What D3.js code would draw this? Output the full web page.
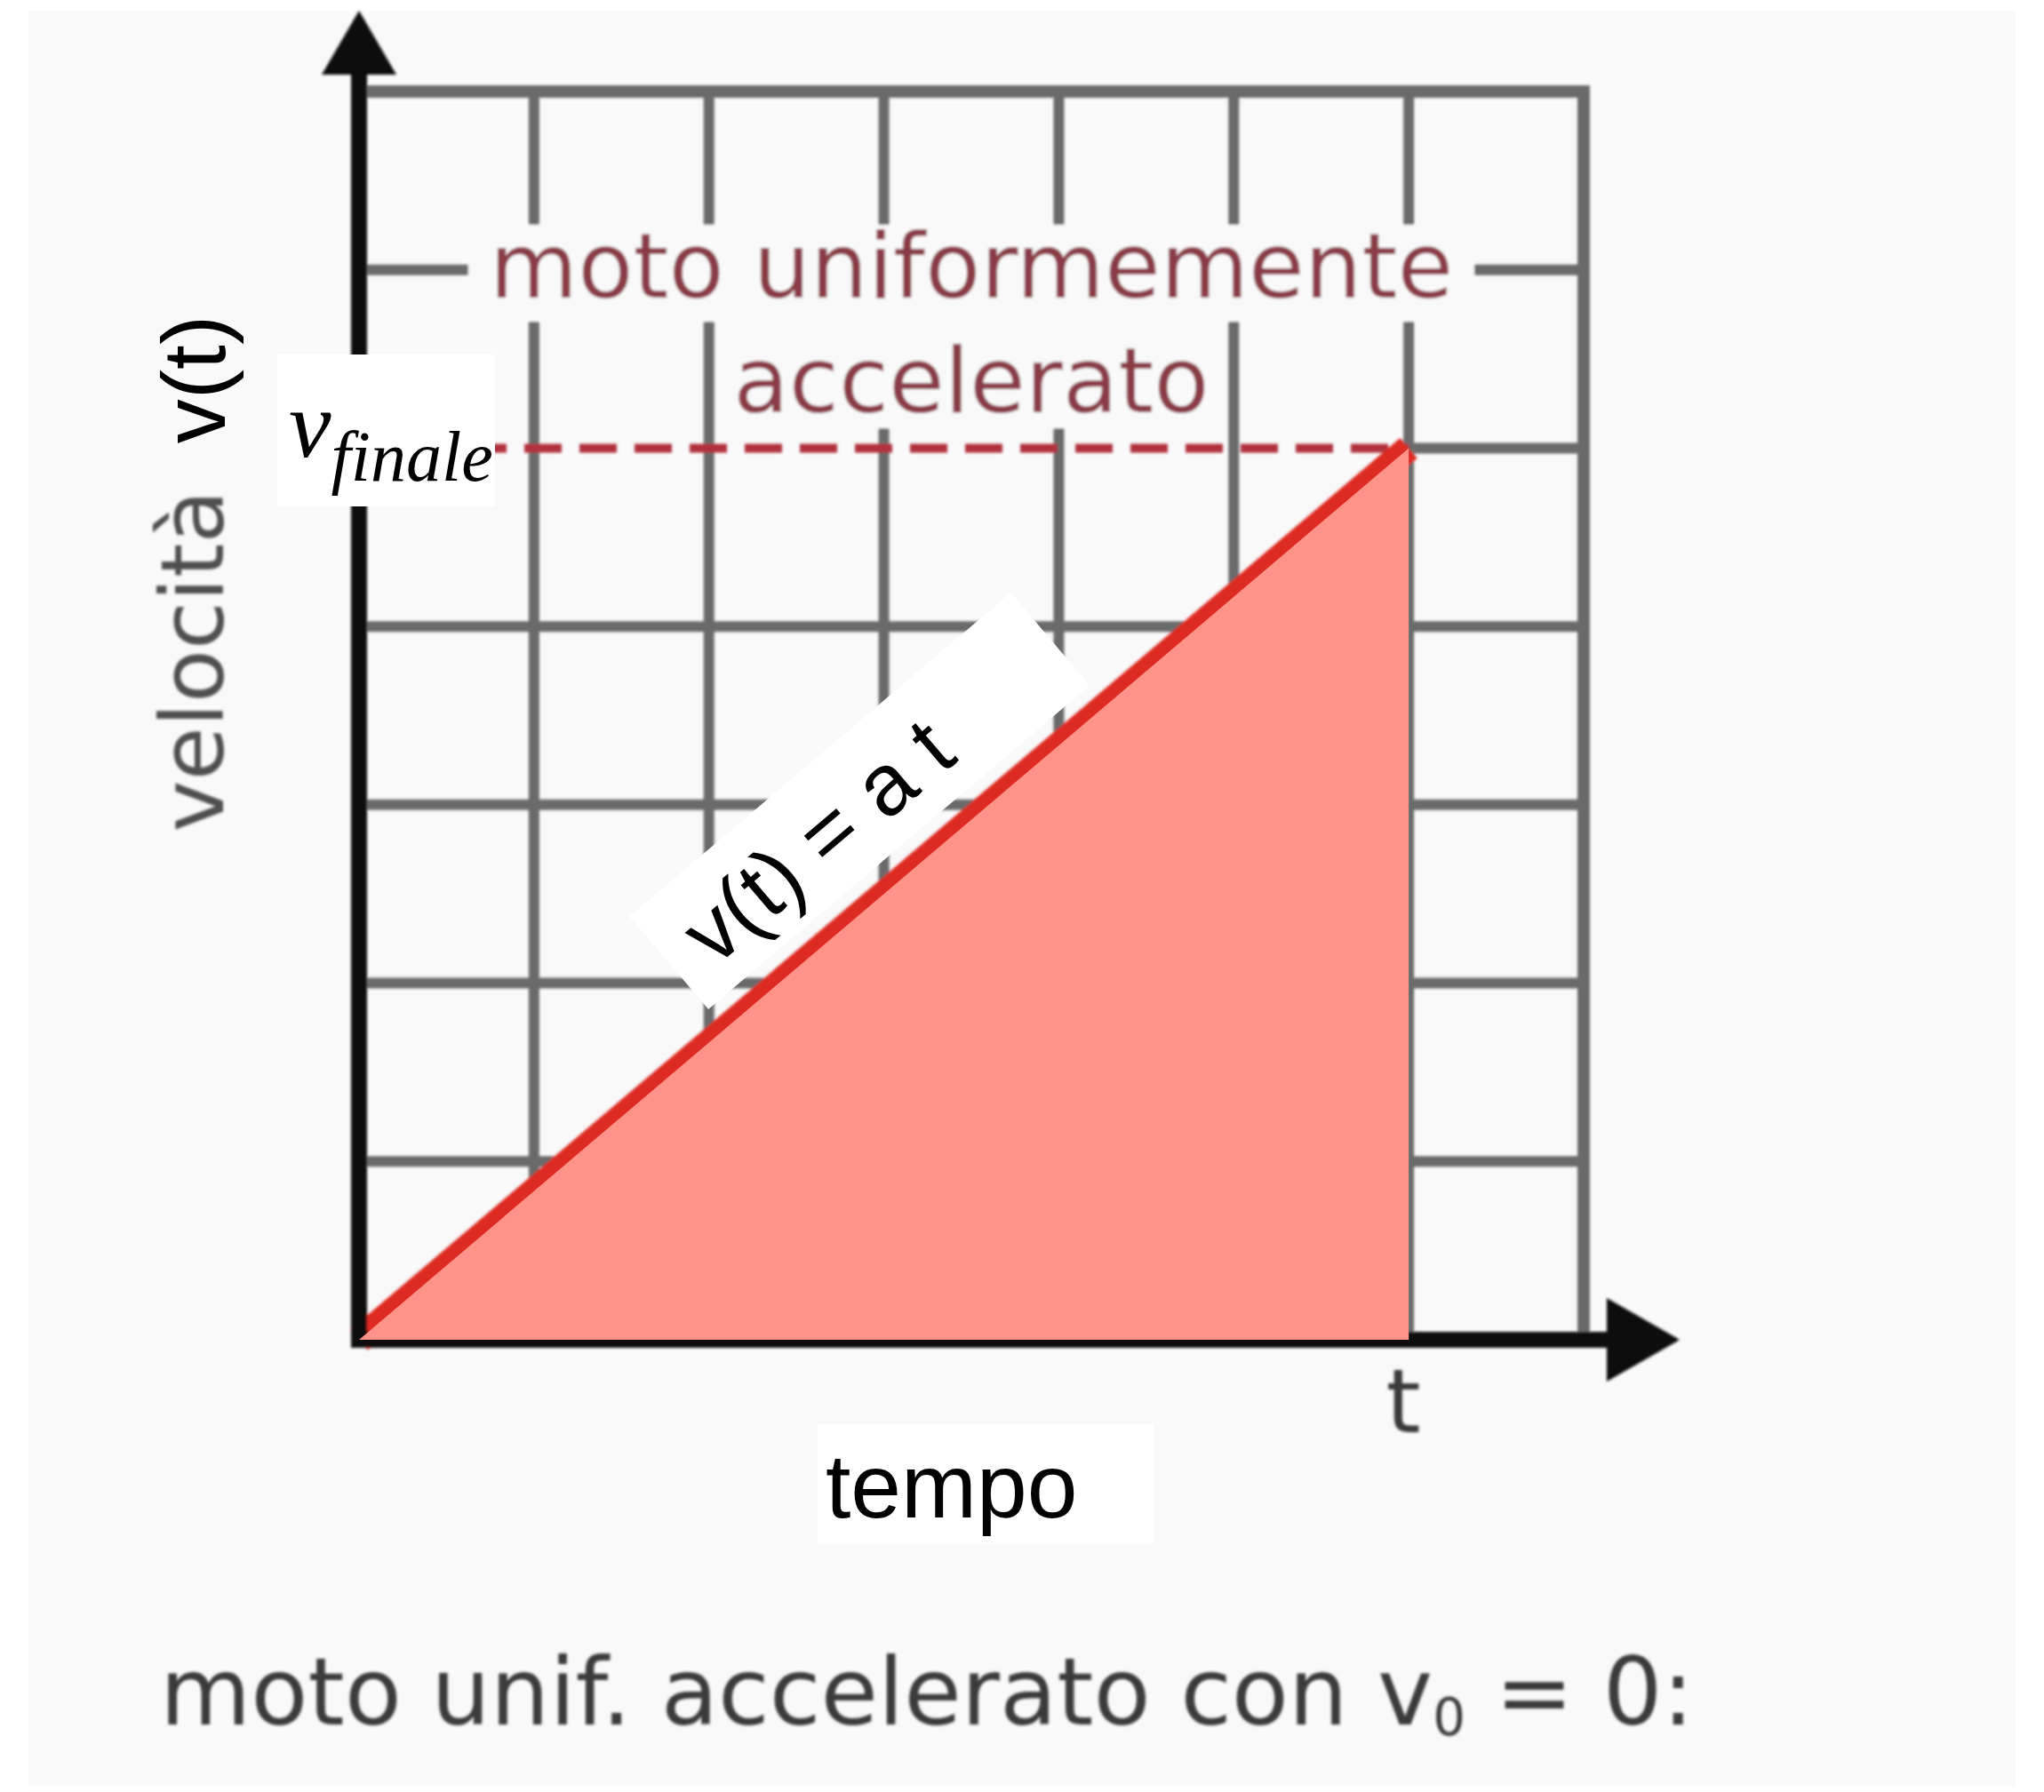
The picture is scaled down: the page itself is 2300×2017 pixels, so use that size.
<!DOCTYPE html>
<html>
<head>
<meta charset="utf-8">
<script src="https://cdn.jsdelivr.net/npm/d3@7"></script>
<style>
  html, body { margin: 0; padding: 0; background: #ffffff; }
  svg { display: block; }
</style>
</head>
<body>
<svg id="chart" width="2300" height="2017"></svg>
<script>
// Grid divisions (one unit per square) along time and velocity
const timeTicks = [0, 1, 2, 3, 4, 5, 6, 7];
const velocityTicks = [0, 1, 2, 3, 4, 5, 6, 7];

// Uniformly accelerated motion starting from rest: v(t) = a t
const motionT = [0, 6];
const motionV = [0, 5];

// Texts
const titleLines = ["moto uniformemente", "accelerato"];
const yAxisTitle = "velocità";
const yAxisSymbol = "v(t)";
const xAxisTitle = "tempo";
const xEndLabel = "t";
const lawLabel = "v(t) = a t";
const captionMain = "moto unif. accelerato con v";
const captionSub = "0";
const captionEnd = " = 0:";

const svg = d3.select("#chart");

const x = d3.scaleLinear().domain([0, 7]).range([404, 1782]);
const y = d3.scaleLinear().domain([0, 7]).range([1508, 103]);

const tEnd = motionT[motionT.length - 1];
const vEnd = motionV[motionV.length - 1];
const paper = "#f9f9f9";

// soft focus for the underlying diagram
const defs = svg.append("defs");
defs.append("filter").attr("id", "soft")
  .attr("x", "-5%").attr("y", "-5%").attr("width", "110%").attr("height", "110%")
  .append("feGaussianBlur").attr("stdDeviation", 1.8);

// page backdrop
svg.append("rect").attr("x", 32).attr("y", 12).attr("width", 2236).attr("height", 1998)
  .attr("fill", paper);

const base = svg.append("g").attr("filter", "url(#soft)");
const gridColor = "#6a6a6a";

// vertical grid lines
base.append("g").selectAll("line")
  .data(timeTicks.filter(d => d > 0))
  .join("line")
  .attr("x1", d => x(d)).attr("x2", d => x(d))
  .attr("y1", y(0)).attr("y2", y(7))
  .attr("stroke", gridColor)
  .attr("stroke-width", d => d === 7 ? 14 : 12);

// horizontal grid lines (the v = vEnd line is drawn dashed up to tEnd)
base.append("g").selectAll("line")
  .data(velocityTicks.filter(d => d > 0))
  .join("line")
  .attr("x1", d => d === vEnd ? x(tEnd) : x(0))
  .attr("x2", x(7) + 7)
  .attr("y1", d => y(d)).attr("y2", d => y(d))
  .attr("stroke", gridColor)
  .attr("stroke-width", d => d === 7 ? 14 : 12);

// title over the grid, on a cleared band
const titleX = x(3.5);
base.append("rect").attr("x", titleX - 566).attr("y", 253).attr("width", 1132).attr("height", 109)
  .attr("fill", paper);
base.append("rect").attr("x", titleX - 283).attr("y", 361).attr("width", 566).attr("height", 121)
  .attr("fill", paper);
base.append("g").selectAll("text")
  .data(titleLines)
  .join("text")
  .attr("x", titleX)
  .attr("y", (d, i) => 335 + i * 129)
  .attr("text-anchor", "middle")
  .attr("font-family", "'DejaVu Sans', Verdana, sans-serif")
  .attr("font-size", 102)
  .attr("fill", "#8a3a45")
  .text(d => d);

// dashed reference to the final velocity
base.append("line")
  .attr("x1", x(0)).attr("x2", x(tEnd))
  .attr("y1", y(vEnd)).attr("y2", y(vEnd))
  .attr("stroke", "#b0313e").attr("stroke-width", 10)
  .attr("stroke-dasharray", "42 20");

// velocity line
const lineGen = d3.line().x(d => x(d[0])).y(d => y(d[1]));
const motion = motionT.map((t, i) => [t, motionV[i]]);
base.append("path")
  .attr("d", lineGen(motion))
  .attr("fill", "none")
  .attr("stroke", "#dd2a24").attr("stroke-width", 30);

// axes with arrowheads
const axisColor = "#0d0d0d";
base.append("line")
  .attr("x1", x(0)).attr("x2", x(0))
  .attr("y1", y(0) + 9).attr("y2", 80)
  .attr("stroke", axisColor).attr("stroke-width", 18);
base.append("path")
  .attr("d", `M${x(0)},12 L${x(0) - 42},84 L${x(0) + 42},84 Z`)
  .attr("fill", axisColor);
base.append("line")
  .attr("x1", x(0) - 9).attr("x2", 1812)
  .attr("y1", y(0)).attr("y2", y(0))
  .attr("stroke", axisColor).attr("stroke-width", 18);
base.append("path")
  .attr("d", `M1890,${y(0)} L1808,${y(0) - 47} L1808,${y(0) + 47} Z`)
  .attr("fill", axisColor);

// end-time tick label
base.append("text")
  .attr("x", x(tEnd) - 6).attr("y", 1612)
  .attr("text-anchor", "middle")
  .attr("font-family", "'DejaVu Sans', Verdana, sans-serif")
  .attr("font-size", 100)
  .attr("fill", "#3b3b3b")
  .text(xEndLabel);

// y axis title
base.append("text")
  .attr("transform", "translate(251,744) rotate(-90)")
  .attr("text-anchor", "middle")
  .attr("font-family", "'DejaVu Sans', Verdana, sans-serif")
  .attr("font-size", 98)
  .attr("fill", "#505050")
  .text(yAxisTitle);

// caption
const cap = base.append("text")
  .attr("x", 180).attr("y", 1941)
  .attr("font-family", "'DejaVu Sans', Verdana, sans-serif")
  .attr("font-size", 105)
  .attr("fill", "#3a3a3a");
cap.append("tspan").text(captionMain);
cap.append("tspan").attr("font-size", 58).attr("dy", 12).text(captionSub);
cap.append("tspan").attr("dy", -12).text(captionEnd);

// ---- crisp annotation layer ----
const overlay = svg.append("g");

// area under v(t): the travelled distance
const area = d3.area().x(d => x(d[0])).y0(y(0)).y1(d => y(d[1]));
overlay.append("path")
  .attr("d", area(motion))
  .attr("fill", "#ff9389");

// v_finale label
overlay.append("rect").attr("x", 312).attr("y", 399).attr("width", 245).attr("height", 171)
  .attr("fill", "#ffffff");
const vf = overlay.append("text")
  .attr("x", 325).attr("y", 514)
  .attr("font-family", "'Liberation Serif', 'Times New Roman', serif")
  .attr("font-style", "italic")
  .attr("font-size", 107)
  .attr("fill", "#000");
vf.append("tspan").text("v");
vf.append("tspan").attr("font-size", 80).attr("dy", 27).text("finale");

// law label along the line
const p0 = [x(motionT[0]), y(motionV[0])];
const p1 = [x(tEnd), y(vEnd)];
const ang = Math.atan2(p1[1] - p0[1], p1[0] - p0[0]);
const dir = [Math.cos(ang), Math.sin(ang)];
const nrm = [dir[1], -dir[0]];
const along = 0.53 * Math.hypot(p1[0] - p0[0], p1[1] - p0[1]);
const off = 98;
const cx = p0[0] + dir[0] * along + nrm[0] * off;
const cy = p0[1] + dir[1] * along + nrm[1] * off;
const law = overlay.append("g")
  .attr("transform", `translate(${cx},${cy}) rotate(${ang * 180 / Math.PI})`);
law.append("rect").attr("x", -281).attr("y", -68).attr("width", 563).attr("height", 137)
  .attr("fill", "#ffffff");
law.append("text")
  .attr("x", -246).attr("y", 38)
  .attr("font-family", "'Liberation Sans', Arial, Helvetica, sans-serif")
  .attr("font-size", 98)
  .attr("fill", "#000")
  .text(lawLabel);

// x axis title
overlay.append("rect").attr("x", 920).attr("y", 1603).attr("width", 378).attr("height", 135)
  .attr("fill", "#ffffff");
overlay.append("text")
  .attr("x", 929).attr("y", 1708)
  .attr("font-family", "'Liberation Sans', Arial, Helvetica, sans-serif")
  .attr("font-size", 102)
  .attr("fill", "#000")
  .text(xAxisTitle);

// velocity symbol beside the y axis title
overlay.append("text")
  .attr("transform", "translate(253,427) rotate(-90)")
  .attr("text-anchor", "middle")
  .attr("font-family", "'Liberation Sans', Arial, Helvetica, sans-serif")
  .attr("font-size", 100)
  .attr("fill", "#000")
  .text(yAxisSymbol);
</script>
</body>
</html>
